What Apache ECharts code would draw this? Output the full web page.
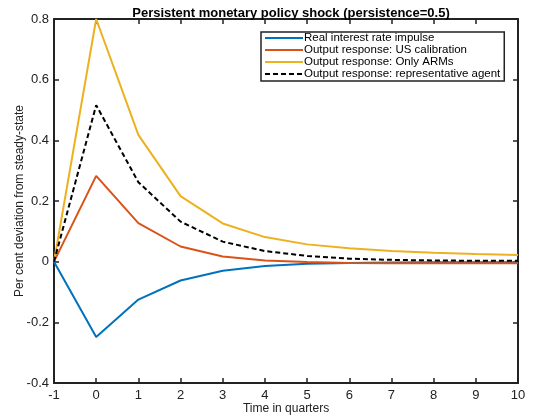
<!DOCTYPE html>
<html><head><meta charset="utf-8">
<script src="https://cdn.jsdelivr.net/npm/echarts@6/dist/echarts.min.js"></script>
<style>html,body{margin:0;padding:0;background:#fff}#c{width:533px;height:417px}</style>
</head><body><div id="c"></div>
<script>
var quarters = [-1, 0, 1, 2, 3, 4, 5, 6, 7, 8, 9, 10];
var realRate = [0, -0.248, -0.125, -0.062, -0.03, -0.014, -0.007, -0.004, -0.003, -0.002, -0.002, -0.002];
var usCalib = [0, 0.283, 0.127, 0.05, 0.017, 0.004, -0.001, -0.004, -0.005, -0.005, -0.005, -0.005];
var onlyARMs = [0, 0.80, 0.418, 0.216, 0.126, 0.081, 0.057, 0.044, 0.035, 0.029, 0.025, 0.022];
var repAgent = [0, 0.516, 0.262, 0.132, 0.066, 0.035, 0.019, 0.010, 0.006, 0.004, 0.003, 0.003];
var names = ['Real interest rate impulse','Output response: US calibration','Output response: Only ARMs','Output response: representative agent'];
function pairs(v){return quarters.map(function(q,i){return [q,v[i]];});}
var font = 'Liberation Sans, Arial, Helvetica, sans-serif';
var chart = echarts.init(document.getElementById('c'));
function mk(name, data, color, type){
  return {name:name, type:'line', data:pairs(data), symbol:'none', silent:true,
    lineStyle:{color:color, width:2, type:type||'solid'}, itemStyle:{color:color}, z:type?4:3};
}
function axisCommon(pos){
  return {position:pos,
    axisLine:{show:true, onZero:false, lineStyle:{color:'#222', width:2}},
    axisTick:{show:true, inside:true, length:5, lineStyle:{color:'#222', width:1.5}},
    splitLine:{show:false}};
}
chart.setOption({
  animation:false,
  title:{text:'Persistent monetary policy shock (persistence=0.5)', left:286, textAlign:'center', top:2,
    textStyle:{fontFamily:font, fontSize:13, fontWeight:'bold', color:'#000'}},
  grid:{left:54, top:19, right:15, bottom:34, show:false, containLabel:false, outerBoundsMode:'none'},
  legend:{orient:'vertical', left:261, top:32, itemWidth:38, itemHeight:8, itemGap:0,
    padding:[0,4,1,3], borderColor:'#222', borderWidth:1.5, backgroundColor:'#fff',
    data:names, itemStyle:{opacity:0},
    textStyle:{fontFamily:font, fontSize:11.5, lineHeight:10.5, color:'#000', padding:[0,0,0,-4]}},
  xAxis:[Object.assign(axisCommon('bottom'), {type:'value', min:-1, max:10, interval:1,
    axisLabel:{fontFamily:font, fontSize:13, color:'#222', margin:6},
    name:'Time in quarters', nameLocation:'middle', nameGap:20, nameMoveOverlap:false,
    nameTextStyle:{fontFamily:font, fontSize:12, color:'#222'}}),
   Object.assign(axisCommon('top'), {type:'value', min:-1, max:10, interval:1, axisLabel:{show:false}})],
  yAxis:[Object.assign(axisCommon('left'), {type:'value', min:-0.4, max:0.8, interval:0.2,
    axisLabel:{fontFamily:font, fontSize:13, color:'#222', margin:5,
      formatter:function(v){return String(Math.round(v*10)/10);}},
    name:'Per cent deviation from steady-state', nameLocation:'middle', nameGap:28, nameMoveOverlap:false,
    nameTextStyle:{fontFamily:font, fontSize:12, color:'#222'}}),
   Object.assign(axisCommon('right'), {type:'value', min:-0.4, max:0.8, interval:0.2, axisLabel:{show:false}})],
  series:[
    mk(names[0], realRate, '#0072BD'),
    mk(names[1], usCalib, '#D95319'),
    mk(names[2], onlyARMs, '#EDB120'),
    mk(names[3], repAgent, '#000000', [5,3])
  ]
});
</script></body></html>
